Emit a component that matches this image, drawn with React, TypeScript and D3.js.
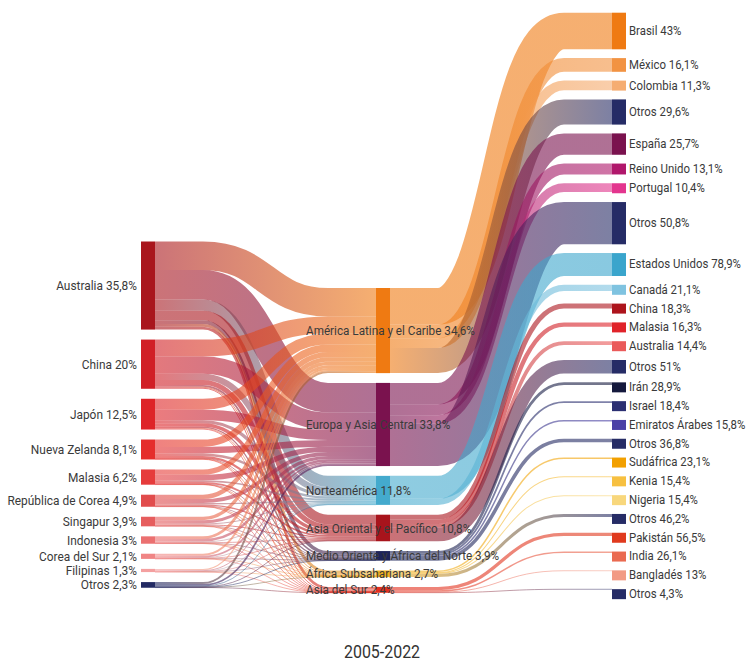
import React from 'react';
import * as d3 from 'd3';

const LEFT_NAMES = ['Australia', 'China', 'Japón', 'Nueva Zelanda', 'Malasia', 'República de Corea', 'Singapur', 'Indonesia', 'Corea del Sur', 'Filipinas', 'Otros'];
const LEFT_VALUES = [35.8, 20, 12.5, 8.1, 6.2, 4.9, 3.9, 3, 2.1, 1.3, 2.3];
const LEFT_COLORS = ['#a9161d', '#d11f26', '#de2428', '#e52e2c', '#e63b3b', '#e14c4c', '#e65d5d', '#eb7070', '#f08585', '#f4a0a0', '#222a63'];

const MID_NAMES = ['América Latina y el Caribe', 'Europa y Asia Central', 'Norteamérica', 'Asia Oriental y el Pacífico', 'Medio Oriente y África del Norte', 'África Subsahariana', 'Asia del Sur'];
const MID_VALUES = [34.6, 33.8, 11.8, 10.8, 3.9, 2.7, 2.4];
const MID_COLORS = ['#ef7a12', '#7a124e', '#44aacd', '#a8141c', '#1e2559', '#f0b020', '#e3301f'];

// flows from each left node to each middle node (estimated)
const FLOW_AUSTRALIA = [11.6, 12.0, 4.5, 3.9, 1.5, 1.2, 1.1];
const FLOW_CHINA = [6.9, 7.0, 2.5, 2.1, 0.7, 0.4, 0.4];
const FLOW_JAPON = [4.5, 4.2, 1.3, 1.4, 0.5, 0.3, 0.3];
const FLOW_NZ = [3.0, 2.7, 1.0, 0.9, 0.2, 0.2, 0.1];
const FLOW_MALASIA = [2.2, 2.2, 0.7, 0.7, 0.2, 0.1, 0.1];
const FLOW_REPCOREA = [1.8, 1.6, 0.6, 0.5, 0.2, 0.1, 0.1];
const FLOW_SINGAPUR = [1.4, 1.3, 0.4, 0.4, 0.2, 0.1, 0.1];
const FLOW_INDONESIA = [1.1, 1.0, 0.3, 0.3, 0.1, 0.1, 0.05];
const FLOW_COREASUR = [0.8, 0.7, 0.2, 0.2, 0.1, 0.05, 0.05];
const FLOW_FILIPINAS = [0.5, 0.4, 0.1, 0.1, 0.1, 0.05, 0.05];
const FLOW_OTROS = [0.8, 0.7, 0.2, 0.3, 0.1, 0.1, 0.05];
const FLOWS = [FLOW_AUSTRALIA, FLOW_CHINA, FLOW_JAPON, FLOW_NZ, FLOW_MALASIA, FLOW_REPCOREA, FLOW_SINGAPUR, FLOW_INDONESIA, FLOW_COREASUR, FLOW_FILIPINAS, FLOW_OTROS];

const RIGHT_NAMES = ['Brasil', 'México', 'Colombia', 'Otros', 'España', 'Reino Unido', 'Portugal', 'Otros', 'Estados Unidos', 'Canadá', 'China', 'Malasia', 'Australia', 'Otros', 'Irán', 'Israel', 'Emiratos Árabes', 'Otros', 'Sudáfrica', 'Kenia', 'Nigeria', 'Otros', 'Pakistán', 'India', 'Bangladés', 'Otros'];
const RIGHT_SHARES = [43, 16.1, 11.3, 29.6, 25.7, 13.1, 10.4, 50.8, 78.9, 21.1, 18.3, 16.3, 14.4, 51, 28.9, 18.4, 15.8, 36.8, 23.1, 15.4, 15.4, 46.2, 56.5, 26.1, 13, 4.3];
const RIGHT_REGION = [0, 0, 0, 0, 1, 1, 1, 1, 2, 2, 3, 3, 3, 3, 4, 4, 4, 4, 5, 5, 5, 5, 6, 6, 6, 6];
const RIGHT_COLORS = ['#ef7a12', '#f29342', '#f5ad72', '#262c66', '#7a124e', '#b0176b', '#e3358e', '#262c66', '#3aa5cc', '#7fc3e0', '#ad141c', '#e0232a', '#ea5a5a', '#262c66', '#15193d', '#2b2f72', '#4a40a6', '#262c66', '#f2a000', '#f7c040', '#f8d77c', '#262c66', '#e03a1e', '#ea6a50', '#f29a84', '#262c66'];

const TITLE = '2005-2022';

const fmt = (v: number) => String(v).replace('.', ',') + '%';

const W = 746, H = 662;
const NODE_W = 14;
const X_LEFT = 141, X_MID = 376, X_RIGHT = 612;
const FLAT = 48;
const FONT = "Roboto, 'Liberation Sans', sans-serif";

const k = d3.scaleLinear().domain([0, 100]).range([0, 246]);

function stack(values: number[], start: number, gap: number, minH = 0) {
  let y = start;
  return values.map((v) => {
    const h = Math.max(k(v), minH);
    const n = { y0: y, y1: y + h };
    y += h + gap;
    return n;
  });
}

function linkPath(x0: number, x1: number, y0: number, y1: number) {
  const a = x0 + FLAT, b = x1 - FLAT, m = (a + b) / 2;
  return `M${x0},${y0}H${a}C${m},${y0} ${m},${y1} ${b},${y1}H${x1}`;
}

function Label({ x, y, anchor, children, size, sx }: { x: number; y: number; anchor: string; children: string; size: number; sx: number }) {
  return (
    <text transform={`translate(${x},${y}) scale(${sx},1)`} dy="0.36em" textAnchor={anchor} fontSize={size}>
      {children}
    </text>
  );
}

export default function App() {
  const leftNodes = stack(LEFT_VALUES, 241.5, 10);
  const midNodes = stack(MID_VALUES, 288, 9.8);
  const rightAbs = RIGHT_SHARES.map((s, i) => (s * MID_VALUES[RIGHT_REGION[i]]) / 100);
  const rightNodes = stack(rightAbs, 12.7, 8.8, 10);

  type L = { x0: number; x1: number; y0: number; y1: number; w: number; c0: string; c1: string; id: string };
  const links: L[] = [];

  // left -> mid
  const srcOff = leftNodes.map((n) => n.y0);
  const tgtOff = midNodes.map((n) => n.y0);
  const pairs: { s: number; t: number; v: number }[] = [];
  FLOWS.forEach((row, s) => row.forEach((v, t) => pairs.push({ s, t, v })));
  const ySrc = new Map<string, number>();
  const yTgt = new Map<string, number>();
  [...pairs].sort((p, q) => p.s - q.s || p.t - q.t).forEach((p) => {
    const w = k(p.v);
    ySrc.set(p.s + '-' + p.t, srcOff[p.s] + w / 2);
    srcOff[p.s] += w;
  });
  [...pairs].sort((p, q) => p.t - q.t || p.s - q.s).forEach((p) => {
    const w = k(p.v);
    yTgt.set(p.s + '-' + p.t, tgtOff[p.t] + w / 2);
    tgtOff[p.t] += w;
  });
  pairs.forEach((p) => {
    const key = p.s + '-' + p.t;
    links.push({
      x0: X_LEFT + NODE_W, x1: X_MID, y0: ySrc.get(key)!, y1: yTgt.get(key)!, w: k(p.v),
      c0: LEFT_COLORS[p.s], c1: MID_COLORS[p.t], id: 'gl' + key,
    });
  });

  // mid -> right
  const midOut = midNodes.map((n) => n.y0);
  rightAbs.forEach((v, i) => {
    const r = RIGHT_REGION[i];
    const w = k(v);
    const y0 = midOut[r] + w / 2;
    midOut[r] += w;
    links.push({
      x0: X_MID + NODE_W, x1: X_RIGHT, y0, y1: rightNodes[i].y0 + w / 2, w,
      c0: MID_COLORS[r], c1: RIGHT_COLORS[i], id: 'gr' + i,
    });
  });

  return (
    <svg width={W} height={H} style={{ position: 'absolute', left: 0, top: 0, background: '#fff' }} fontFamily={FONT}>
      <defs>
        {links.map((l) => (
          <linearGradient key={l.id} id={l.id} gradientUnits="userSpaceOnUse" x1={l.x0} x2={l.x1} y1={0} y2={0}>
            <stop offset="0%" stopColor={l.c0} />
            <stop offset="100%" stopColor={l.c1} />
          </linearGradient>
        ))}
      </defs>
      <g fill="none" strokeOpacity={0.6}>
        {links.map((l) => (
          <path key={l.id} d={linkPath(l.x0, l.x1, l.y0, l.y1)} stroke={`url(#${l.id})`} strokeWidth={Math.max(l.w, 0.8)} />
        ))}
      </g>
      <g>
        {leftNodes.map((n, i) => (
          <rect key={'ln' + i} x={X_LEFT} y={n.y0} width={NODE_W} height={n.y1 - n.y0} fill={LEFT_COLORS[i]} />
        ))}
        {midNodes.map((n, i) => (
          <rect key={'mn' + i} x={X_MID} y={n.y0} width={NODE_W} height={n.y1 - n.y0} fill={MID_COLORS[i]} />
        ))}
        {rightNodes.map((n, i) => (
          <rect key={'rn' + i} x={X_RIGHT} y={n.y0} width={NODE_W} height={n.y1 - n.y0} fill={RIGHT_COLORS[i]} />
        ))}
      </g>
      <g fill="#3a3a3a">
        {leftNodes.map((n, i) => (
          <Label key={'lt' + i} x={X_LEFT - 4} y={(n.y0 + n.y1) / 2} anchor="end" size={12.4} sx={0.96}>
            {LEFT_NAMES[i] + ' ' + fmt(LEFT_VALUES[i])}
          </Label>
        ))}
        {midNodes.map((n, i) => (
          <Label key={'mt' + i} x={306} y={(n.y0 + n.y1) / 2} anchor="start" size={12.6} sx={0.93}>
            {MID_NAMES[i] + ' ' + fmt(MID_VALUES[i])}
          </Label>
        ))}
        {rightNodes.map((n, i) => (
          <Label key={'rt' + i} x={X_RIGHT + NODE_W + 3} y={(n.y0 + n.y1) / 2 - 1} anchor="start" size={13.6} sx={0.84}>
            {RIGHT_NAMES[i] + ' ' + fmt(RIGHT_SHARES[i])}
          </Label>
        ))}
      </g>
      <g fill="#333">
        <Label x={382} y={651} anchor="middle" size={19} sx={0.84}>{TITLE}</Label>
      </g>
    </svg>
  );
}
